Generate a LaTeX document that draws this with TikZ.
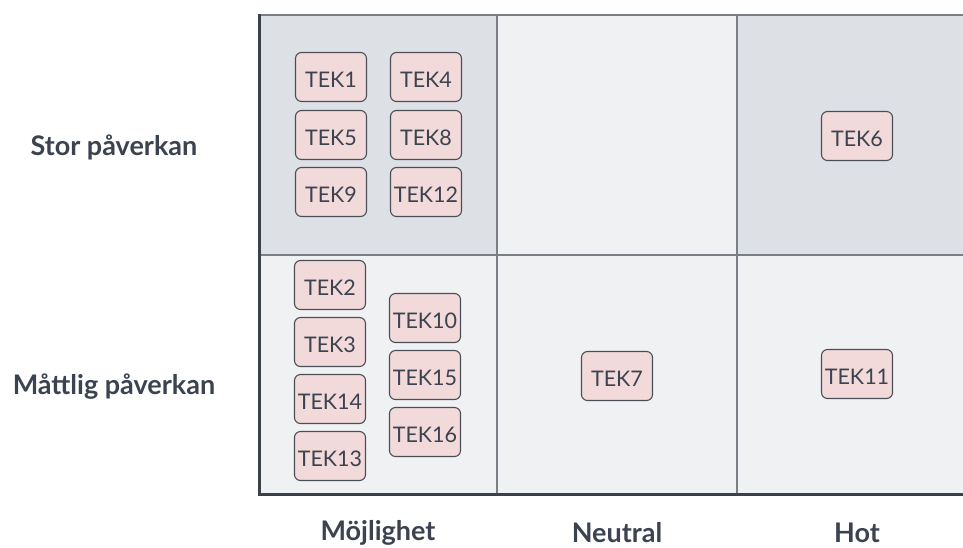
\documentclass[tikz,border=0pt]{standalone}
\usepackage{fontspec}
\setmainfont{Lato}
\begin{document}
\begin{tikzpicture}[x=1pt,y=-1pt,
  tek/.style={draw=boxline, line width=1.1pt, fill=pinkfill, rounded corners=6pt,
    minimum width=71pt, minimum height=49pt, inner sep=0pt,
    font=\fontsize{21.5}{24}\selectfont, text=ink,
    text height=21.4pt, text depth=0pt},
  axislabel/.style={font=\fontsize{27}{31}\selectfont\bfseries, text=ink},
  cellline/.style={draw=gridline, line width=1.2pt},
  axis/.style={draw=axisline, line width=3pt}]
\definecolor{ink}{HTML}{3B4350}
\definecolor{boxline}{HTML}{4A4F57}
\definecolor{pinkfill}{HTML}{F2DADA}
\definecolor{darkcell}{HTML}{DDE1E6}
\definecolor{lightcell}{HTML}{F0F1F3}
\definecolor{gridline}{HTML}{7A7F86}
\definecolor{axisline}{HTML}{3A414B}
\useasboundingbox (0,0) rectangle (963,547);
% cells
\fill[darkcell] (258,15) rectangle (497,255);
\fill[lightcell] (497,15) rectangle (737,255);
\fill[darkcell] (737,15) rectangle (963,255);
\fill[lightcell] (258,255) rectangle (963,495);
% grid lines
\draw[cellline] (258,15) -- (963,15);
\draw[cellline] (258,255) -- (963,255);
\draw[cellline] (497,15) -- (497,495);
\draw[cellline] (737,15) -- (737,495);
% axes
\draw[axis] (259,14) -- (259,494) -- (963,494);
% row labels
\node[axislabel] (r1) at (114,147) {Stor påverkan};
\node[axislabel] (r2) at (114,387) {Måttlig påverkan};
% column labels
\node[axislabel] (c1) at (378,533) {Möjlighet};
\node[axislabel] (c2) at (617,533) {Neutral};
\node[axislabel] (c3) at (857,533) {Hot};
% top-left cell
\node[tek] (t1) at (331,77) {TEK1};
\node[tek] (t4) at (426,77) {TEK4};
\node[tek] (t5) at (331,135) {TEK5};
\node[tek] (t8) at (426,135) {TEK8};
\node[tek] (t9) at (331,192) {TEK9};
\node[tek] (t12) at (426,192) {TEK12};
% top-right cell
\node[tek] (t6) at (857,136) {TEK6};
% bottom-left cell
\node[tek] (t2) at (330,285) {TEK2};
\node[tek] (t3) at (330,342) {TEK3};
\node[tek] (t14) at (330,399) {TEK14};
\node[tek] (t13) at (330,456) {TEK13};
\node[tek] (t10) at (425,318) {TEK10};
\node[tek] (t15) at (425,375) {TEK15};
\node[tek] (t16) at (425,432) {TEK16};
% bottom-middle and bottom-right cells
\node[tek] (t7) at (617,376) {TEK7};
\node[tek] (t11) at (857,374) {TEK11};
\end{tikzpicture}
\end{document}
